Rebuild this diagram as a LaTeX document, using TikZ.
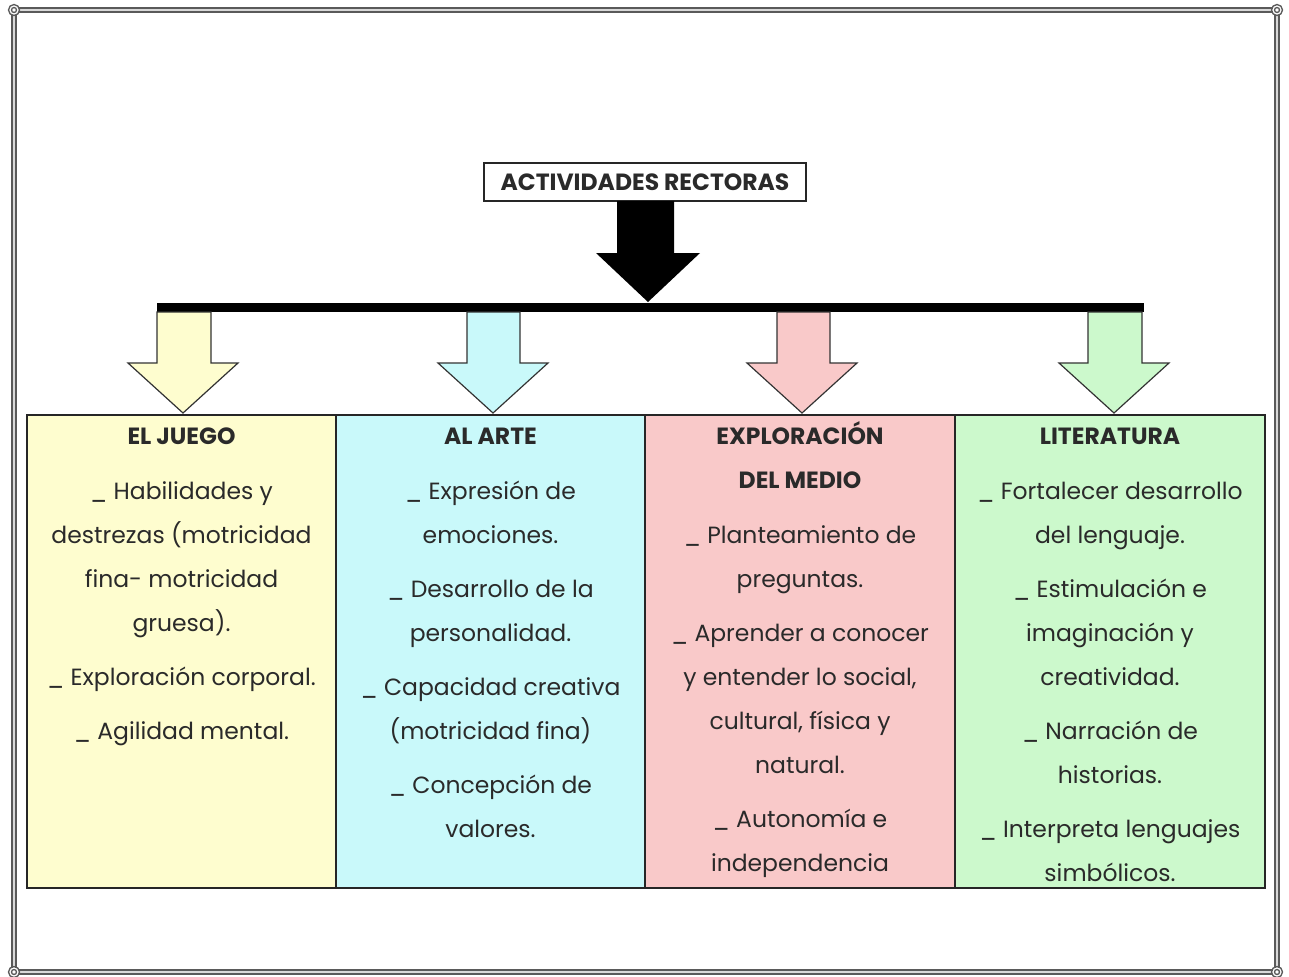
\documentclass[tikz,border=0pt]{standalone}
\usepackage{fontspec}
\setmainfont{Poppins}
\definecolor{cyel}{HTML}{FEFDCF}
\definecolor{ccya}{HTML}{C9F9FA}
\definecolor{cpnk}{HTML}{F9C9C9}
\definecolor{cgrn}{HTML}{CCF9CC}
\definecolor{ctxt}{HTML}{2A2A2A}
\definecolor{cfrm}{HTML}{5A5A5A}
\tikzset{
  frame/.style={draw=cfrm, line width=1.8pt, double=white!85!black, double distance=1.6pt},
  orn/.style={draw=cfrm, fill=white, line width=1pt},
  colbox/.style={draw=black!85, line width=1.3pt},
  blkarrow/.style={draw=black!80, line width=0.9pt},
  coltxt/.style={anchor=north, inner sep=0pt, align=center, text=ctxt,
    font=\fontsize{17.6}{33}\selectfont},
  titlebox/.style={draw=black!85, line width=1pt, fill=white, inner sep=0pt,
    minimum width=241.5pt, minimum height=28.5pt,
    font=\fontsize{17.6}{20}\selectfont\bfseries, text=ctxt},
}
\newcommand{\hdr}[1]{{\fontsize{17.6}{33}\selectfont\bfseries #1}}
\newcommand{\firstl}{\rule{0pt}{20pt}}
\begin{document}
\begin{tikzpicture}[x=0.75pt,y=-0.75pt]
\useasboundingbox (0,0) rectangle (1289,976);
% frame
\draw[frame] (14,10) rectangle (1277,972);
\foreach \p in {(14,10),(1277,10),(14,972),(1277,972)}{
  \draw[orn] \p circle (5.5); \draw[orn] \p circle (2.5);
}
% title
\node[titlebox] (title) at (645,182) {ACTIVIDADES RECTORAS};
% black arrow
\coordinate (hub) at (648,302);
\fill[black] (617,201) -- (674,201) -- (674,253) -- (700,253) -- (hub) -- (596,253) -- (617,253) -- cycle;
% bar
\fill[black] (157,303) rectangle (1144,312);
% columns
\draw[colbox, fill=cyel] (27,415) rectangle (336,888);
\draw[colbox, fill=ccya] (336,415) rectangle (645,888);
\draw[colbox, fill=cpnk] (645,415) rectangle (955,888);
\draw[colbox, fill=cgrn] (955,415) rectangle (1265,888);
% colored arrows
\newcommand{\colarrow}[4]{% left shaft x, right shaft x, tip x, color
  \filldraw[blkarrow, fill=#4] (#1,312) -- (#2,312) -- (#2,363) -- ({#3+55},363) -- (#3,413) -- ({#3-55},363) -- (#1,363) -- cycle;}
\colarrow{157}{211}{183}{cyel}
\colarrow{467}{520}{493}{ccya}
\colarrow{777}{830}{802}{cpnk}
\colarrow{1088}{1142}{1114}{cgrn}
% texts
\node[coltxt] (t1) at (181.5,418) {\firstl\hdr{EL JUEGO}\\[8.25pt]
 \_ Habilidades y\\ destrezas (motricidad\\ fina- motricidad\\ gruesa).\\[7.5pt]
 \_ Exploración corporal.\\[7.5pt] \_ Agilidad mental.};
\node[coltxt] (t2) at (490.5,418) {\firstl\hdr{AL ARTE}\\[8.25pt]
 \_ Expresión de\\ emociones.\\[7.5pt]
 \_ Desarrollo de la\\ personalidad.\\[7.5pt]
 \_ Capacidad creativa\\ (motricidad fina)\\[7.5pt]
 \_ Concepción de\\ valores.};
\node[coltxt] (t3) at (800,418) {\firstl\hdr{EXPLORACIÓN}\\ \hdr{DEL MEDIO}\\[8.25pt]
 \_ Planteamiento de\\ preguntas.\\[7.5pt]
 \_ Aprender a conocer\\ y entender lo social,\\ cultural, física y\\ natural.\\[7.5pt]
 \_ Autonomía e\\ independencia};
\node[coltxt] (t4) at (1110,418) {\firstl\hdr{LITERATURA}\\[8.25pt]
 \_ Fortalecer desarrollo\\ del lenguaje.\\[7.5pt]
 \_ Estimulación e\\ imaginación y\\ creatividad.\\[7.5pt]
 \_ Narración de\\ historias.\\[7.5pt]
 \_ Interpreta lenguajes\\ simbólicos.};
\end{tikzpicture}
\end{document}
